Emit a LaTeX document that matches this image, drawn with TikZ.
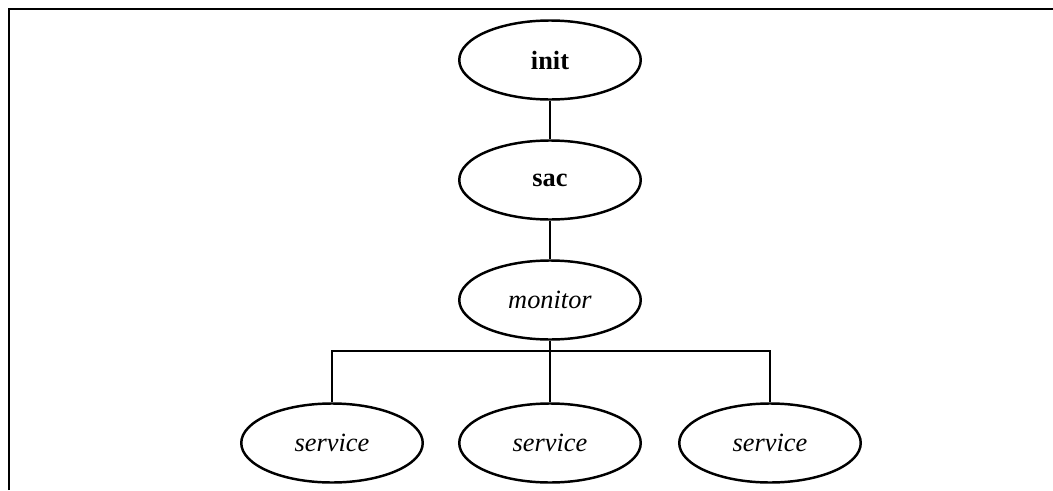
\documentclass[tikz,border=0pt]{standalone}
\usepackage{fontspec}
\setmainfont{Liberation Serif}
\usetikzlibrary{shapes.geometric}

\begin{document}
\begin{tikzpicture}[
		proc/.style={draw, ellipse, line width=1.4pt, minimum width=3.63cm, minimum height=1.58cm, inner sep=0pt, font=\fontsize{15}{18}\selectfont},
		link/.style={line width=1pt}
	]
		%%%%% START %%%%%
		
		\useasboundingbox (0, 0) rectangle (21.06, 9.8);
		\draw[line width=1.7pt] (0.18, 0) -- (0.18, 9.62) -- (21.06, 9.62);
		
		\node[proc] (init) at (11.0, 8.6) {\textbf{init}};
		\node[proc] (sac) at (11.0, 6.2) {\textbf{sac}};
		\node[proc] (monitor) at (11.0, 3.8) {\textit{monitor}};
		
		\node[proc] (srvL) at (6.64, 0.94) {\textit{service}};
		\node[proc] (srvM) at (11.0, 0.94) {\textit{service}};
		\node[proc] (srvR) at (15.4, 0.94) {\textit{service}};
		
		\coordinate (bar) at (11.0, 2.78);
		
		\draw[link] (init) -- (sac);
		\draw[link] (sac) -- (monitor);
		\draw[link] (monitor) -- (bar);
		\draw[link] (srvL.north) |- (bar) -| (srvR.north);
		\draw[link] (bar) -- (srvM);
		
		%%%%% END %%%%%
\end{tikzpicture}
\end{document}
